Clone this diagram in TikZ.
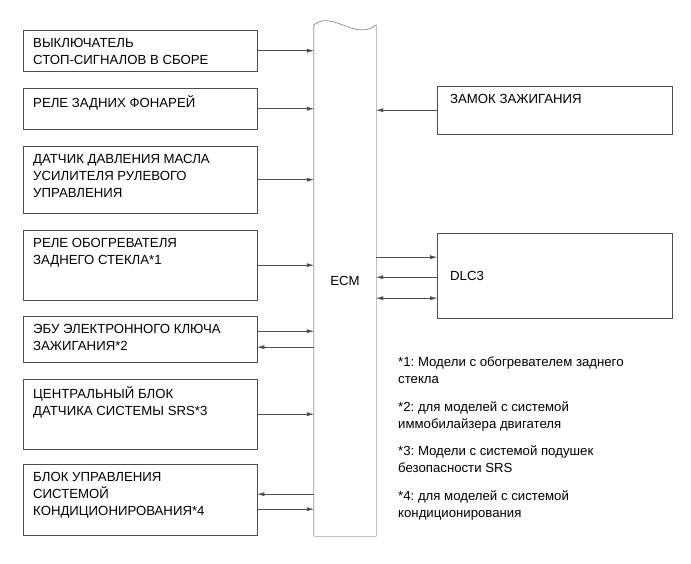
\documentclass[tikz,border=0pt]{standalone}
\usepackage{fontspec}
\setmainfont{Liberation Sans}
\usetikzlibrary{positioning}
\usetikzlibrary{arrows.meta}
\frenchspacing

\begin{document}
\begin{tikzpicture}[x=1pt,y=1pt,
		blk/.style={draw=black!70,rectangle,anchor=north west,minimum width=234pt,inner sep=0pt},
		txt/.style={align=left,inner sep=0pt,font=\fontsize{13.2}{17}\selectfont},
		sig/.style={draw=black!70,-{Latex[length=7pt,width=4pt]}},
		sigboth/.style={draw=black!70,{Latex[length=7pt,width=4pt]}-{Latex[length=7pt,width=4pt]}}]
	\useasboundingbox (0,0) rectangle (691,-564);
	% ECM
	\node[txt,minimum width=62pt,minimum height=511pt] at (345,-280.5) (ecm) {ECM};
	\draw[black!70] (ecm.north west) .. controls ([shift={(19,15)}]ecm.north west) and ([shift={(-21,-17)}]ecm.north east) .. (ecm.north east) -- (ecm.south east) -- (ecm.south west) -- cycle;
	% left side
	\node[blk,minimum height=41pt] at (23,-30) (stop) {};
	\node[txt,below right=8.3pt and 10pt of stop.north west] (stoptxt) {ВЫКЛЮЧАТЕЛЬ\\СТОП-СИГНАЛОВ В СБОРЕ};
	\node[blk,minimum height=41pt] at (23,-88) (tail) {};
	\node[txt,below right=7pt and 10pt of tail.north west] (tailtxt) {РЕЛЕ ЗАДНИХ ФОНАРЕЙ};
	\node[blk,minimum height=67pt] at (23,-146) (pps) {};
	\node[txt,below right=8.3pt and 10pt of pps.north west] (ppstxt) {ДАТЧИК ДАВЛЕНИЯ МАСЛА\\УСИЛИТЕЛЯ РУЛЕВОГО\\УПРАВЛЕНИЯ};
	\node[blk,minimum height=70pt] at (23,-230) (defog) {};
	\node[txt,below right=8.3pt and 10pt of defog.north west] (defogtxt) {РЕЛЕ ОБОГРЕВАТЕЛЯ\\ЗАДНЕГО СТЕКЛА*1};
	\node[blk,minimum height=46pt] at (23,-316) (key) {};
	\node[txt,below right=8.3pt and 10pt of key.north west] (keytxt) {ЭБУ ЭЛЕКТРОННОГО КЛЮЧА\\ЗАЖИГАНИЯ*2};
	\node[blk,minimum height=70pt] at (23,-379) (srs) {};
	\node[txt,below right=7pt and 10pt of srs.north west] (srstxt) {ЦЕНТРАЛЬНЫЙ БЛОК\\ДАТЧИКА СИСТЕМЫ SRS*3};
	\node[blk,minimum height=71pt] at (23,-464) (ac) {};
	\node[txt,below right=8.3pt and 10pt of ac.north west] (actxt) {БЛОК УПРАВЛЕНИЯ\\СИСТЕМОЙ\\КОНДИЦИОНИРОВАНИЯ*4};
	% right side
	\node[blk,minimum width=235pt,minimum height=48pt] at (437,-86) (ig) {};
	\node[txt,below right=8.3pt and 13pt of ig.north west] (igtxt) {ЗАМОК ЗАЖИГАНИЯ};
	\node[blk,minimum width=235pt,minimum height=85pt] at (437,-233) (dlc) {};
	\node[txt,right=13pt of dlc.west] (dlctxt) {DLC3};
	% notes
	\node[txt,anchor=north west] at (398,-357) (n1) {*1: Модели с обогревателем заднего\\стекла};
	\node[txt,anchor=north west] at (398,-401.5) (n2) {*2: для моделей с системой\\иммобилайзера двигателя};
	\node[txt,anchor=north west] at (398,-446) (n3) {*3: Модели с системой подушек\\безопасности SRS};
	\node[txt,anchor=north west] at (398,-490.5) (n4) {*4: для моделей с системой\\кондиционирования};
	% connectors
	\draw[sig] (stop.east) -- (stop.east -| ecm.west);
	\draw[sig] (tail.east) -- (tail.east -| ecm.west);
	\draw[sig] (pps.east) -- (pps.east -| ecm.west);
	\draw[sig] (defog.east) -- (defog.east -| ecm.west);
	\draw[sig] ([yshift=8pt]key.east) -- ([yshift=8pt]key.east -| ecm.west);
	\draw[sig] ([yshift=-8pt]ecm.west |- key.east) -- ([yshift=-8pt]key.east);
	\draw[sig] (srs.east) -- (srs.east -| ecm.west);
	\draw[sig] ([yshift=5.5pt]ecm.west |- ac.east) -- ([yshift=5.5pt]ac.east);
	\draw[sig] ([yshift=-9.5pt]ac.east) -- ([yshift=-9.5pt]ac.east -| ecm.west);
	\draw[sig] (ig.west) -- (ig.west -| ecm.east);
	\draw[sig] ([yshift=18.5pt]ecm.east |- dlc.west) -- ([yshift=18.5pt]dlc.west);
	\draw[sig] ([yshift=-1.5pt]dlc.west) -- ([yshift=-1.5pt]dlc.west -| ecm.east);
	\draw[sigboth] ([yshift=-22.5pt]ecm.east |- dlc.west) -- ([yshift=-22.5pt]dlc.west);
\end{tikzpicture}
\end{document}
